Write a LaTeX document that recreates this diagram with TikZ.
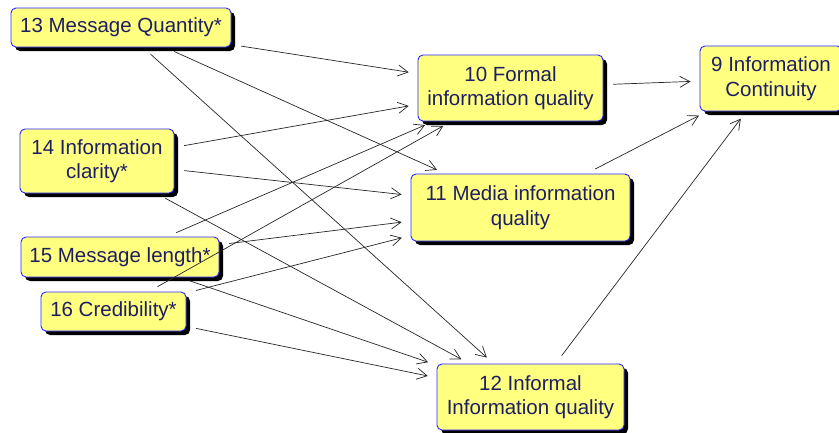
\documentclass[tikz,border=0pt]{standalone}
\usepackage{fontspec}
\setmainfont{Liberation Sans}
\usetikzlibrary{arrows.meta,shadows}
\definecolor{boxfill}{RGB}{255,255,128}
\definecolor{boxline}{RGB}{40,40,255}
\definecolor{boxtext}{RGB}{30,30,100}
\begin{document}
\begin{tikzpicture}[x=1pt, y=-1pt, line join=round, line cap=round,
	>={Straight Barb[length=10pt,width=11pt]},
	nodebox/.style={draw=boxline, fill=boxfill, rounded corners=5pt, line width=0.9pt,
		text=boxtext, align=center, inner sep=0pt,
		font=\fontsize{20.5}{24.5}\selectfont,
		drop shadow={shadow xshift=4pt, shadow yshift=-4pt, fill=black, opacity=1}},
	link/.style={->, draw=black!85, line width=0.7pt, shorten <=10pt, shorten >=9pt}]
	\useasboundingbox (0,0) rectangle (839,432);
	\clip (0,0) rectangle (839,432);
	% sources
	\node[nodebox, minimum width=220pt, minimum height=39pt] (quantity) at (121,27.5) {13 Message Quantity*};
	\node[nodebox, minimum width=154pt, minimum height=64pt] (clarity) at (97,161) {14 Information\\clarity*};
	\node[nodebox, minimum width=198pt, minimum height=40pt] (length) at (120,257) {15 Message length*};
	\node[nodebox, minimum width=145pt, minimum height=39pt] (credib) at (113.5,311.5) {16 Credibility*};
	% middle
	\node[nodebox, minimum width=185pt, minimum height=66pt] (formal) at (510.5,88) {10 Formal\\information quality};
	\node[nodebox, minimum width=219pt, minimum height=67pt] (media) at (520.5,207.5) {11 Media information\\quality};
	\node[nodebox, minimum width=187pt, minimum height=66pt] (informal) at (530.5,397) {12 Informal\\Information quality};
	% target
	\node[nodebox, minimum width=142pt, minimum height=65pt] (contin) at (771,78.5) {9 Information\\Continuity};
	% links
	\foreach \s in {quantity,clarity,length,credib}
		\foreach \t in {formal,media,informal}
			\draw[link] (\s) -- (\t);
	\draw[link] (formal) -- (contin);
	\draw[link] (media) -- (contin);
	\draw[link] (informal) -- (contin);
\end{tikzpicture}
\end{document}
